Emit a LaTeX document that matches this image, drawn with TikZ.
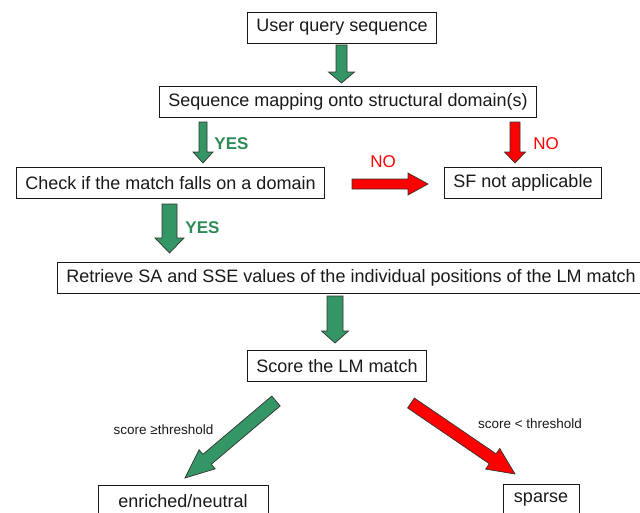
\documentclass[tikz,border=0pt]{standalone}
\usepackage{fontspec}
\setmainfont{Liberation Sans}
\usetikzlibrary{calc}

\definecolor{arrowgreen}{RGB}{51,150,100}
\definecolor{yesgreen}{RGB}{46,139,87}
\definecolor{ink}{RGB}{25,25,25}

% tail, tip, shaft half width, head half width, head length, fill
\newcommand\fatarrow[6]{%
  \coordinate (hb) at ($(#2)!#5!(#1)$);
  \draw[arrowbody, fill=#6] ($(#1)!#3!90:(#2)$) -- ($(hb)!#3!90:(#2)$)
    -- ($(hb)!#4!90:(#2)$) -- (#2) -- ($(hb)!#4!-90:(#2)$)
    -- ($(hb)!#3!-90:(#2)$) -- ($(#1)!#3!-90:(#2)$) -- cycle;
}

\begin{document}
\begin{tikzpicture}[x=1pt, y=-1pt,
  stage/.style={draw=ink, line width=0.8pt, text=ink, font=\fontsize{18}{20}\selectfont,
    inner xsep=9pt, minimum height=31pt},
  arrowbody/.style={draw=black!80, line width=0.7pt, line join=miter},
  yes/.style={text=yesgreen, font=\fontsize{17}{19}\selectfont\bfseries},
  no/.style={text=red, font=\fontsize{17}{19}\selectfont},
  cond/.style={text=ink, font=\fontsize{13.5}{15}\selectfont}]
\useasboundingbox (0,0) rectangle (640,512);

\node[stage] (user) at (342,27.5) {User query sequence};
\node[stage] (map) at (348,102) {Sequence mapping onto structural domain(s)};
\node[stage] (check) at (170.5,183) {Check if the match falls on a domain};
\node[stage] (sfna) at (523,183) {SF not applicable};
\node[stage, anchor=west] (sasse) at (57,277.5)
  {Retrieve SA and SSE values of the individual positions of the LM match};
\node[stage] (score) at (337,366) {Score the LM match};
\node[stage, minimum width=170pt] (enriched) at (183,501) {enriched/neutral};
\node[stage, minimum width=76pt] (sparse) at (541,500) {sparse};

\node[yes] (yes1) at (231.5,143.5) {YES};
\node[no] (no1) at (546,143.5) {NO};
\node[no] (no2) at (383,161.5) {NO};
\node[yes] (yes2) at (202.5,227.5) {YES};
\node[cond] (ge) at (163.5,430) {score ≥threshold};
\node[cond] (lt) at (530,423.5) {score < threshold};

\coordinate (q-tail) at (341.5,45);  \coordinate (q-tip) at (341.5,83);
\coordinate (y1-tail) at (203,122);  \coordinate (y1-tip) at (203,163);
\coordinate (n1-tail) at (515,122);  \coordinate (n1-tip) at (515,163);
\coordinate (n2-tail) at (352,184);  \coordinate (n2-tip) at (428,184);
\coordinate (y2-tail) at (169.5,204); \coordinate (y2-tip) at (169.5,253);
\coordinate (r-tail) at (335,296);   \coordinate (r-tip) at (335,343);
\coordinate (ge-tail) at (276,401);  \coordinate (ge-tip) at (185,478);
\coordinate (lt-tail) at (411,403);  \coordinate (lt-tip) at (515,474);

\fatarrow{q-tail}{q-tip}{5.5pt}{13pt}{11pt}{arrowgreen}
\fatarrow{y1-tail}{y1-tip}{4pt}{10pt}{11pt}{arrowgreen}
\fatarrow{n1-tail}{n1-tip}{5pt}{10.5pt}{11pt}{red}
\fatarrow{n2-tail}{n2-tip}{5pt}{11pt}{20pt}{red}
\fatarrow{y2-tail}{y2-tip}{7.5pt}{14.5pt}{15pt}{arrowgreen}
\fatarrow{r-tail}{r-tip}{8pt}{13.5pt}{12pt}{arrowgreen}
\fatarrow{ge-tail}{ge-tip}{6.5pt}{12.5pt}{29pt}{arrowgreen}
\fatarrow{lt-tail}{lt-tip}{6pt}{12.5pt}{27pt}{red}
\end{tikzpicture}
\end{document}
